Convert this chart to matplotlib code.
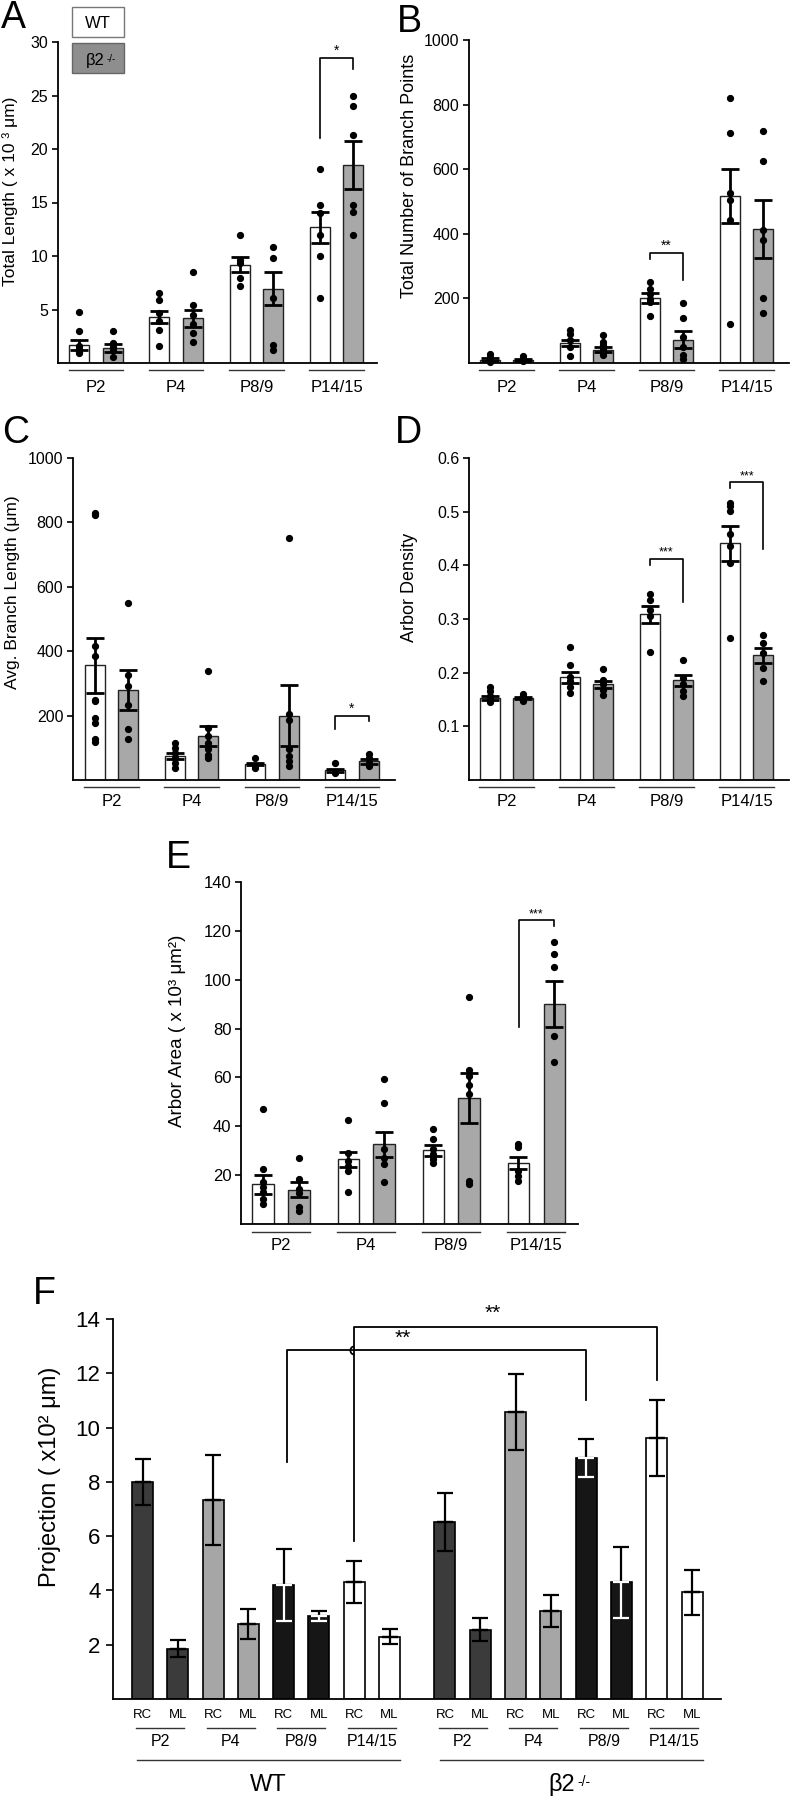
import numpy as np
import matplotlib
matplotlib.use("Agg")
import matplotlib.pyplot as plt
from matplotlib.patches import Rectangle, Arc
from matplotlib.text import Annotation
from matplotlib.transforms import offset_copy

plt.rcParams["font.family"] = ["Liberation Sans", "DejaVu Sans"]

AGES = ["P2", "P4", "P8/9", "P14/15"]

# ---- A: total length (x10^3 um)
A_wt_mean = [1.7, 4.3, 9.2, 12.7]
A_wt_sem = [0.45, 0.6, 0.7, 1.45]
A_ko_mean = [1.4, 4.2, 6.95, 18.5]
A_ko_sem = [0.4, 0.8, 1.55, 2.25]
A_wt_pts = [[4.75, 2.95, 1.6, 1.3, 1.0, 0.9], [6.5, 5.9, 4.7, 3.9, 3.1, 1.55],
            [12.0, 9.6, 9.3, 7.9, 7.15], [18.1, 14.75, 14.0, 12.0, 10.0, 6.1]]
A_ko_pts = [[2.95, 1.85, 1.5, 1.25, 0.6], [8.55, 5.45, 4.5, 3.6, 2.8, 2.0],
            [10.8, 9.8, 6.05, 1.7, 1.25], [25.0, 24.0, 21.3, 14.75, 14.1, 12.0]]

# ---- B: branch points
B_wt_mean = [10, 62, 202, 517]
B_wt_sem = [4, 10, 16, 83]
B_ko_mean = [9, 41, 72, 415]
B_ko_sem = [3, 8, 26, 90]
B_wt_pts = [[29, 19, 8, 4], [101, 91, 70, 50, 21], [251, 230, 215, 199, 189, 145],
            [821, 713, 525, 506, 442, 121]]
B_ko_pts = [[23, 13, 5], [88, 65, 55, 44, 34, 24], [186, 140, 80, 50, 24, 13],
            [718, 625, 413, 380, 202, 155]]

# ---- C: avg branch length (um)
C_wt_mean = [356, 74, 50, 30]
C_wt_sem = [85, 9, 4, 5]
C_ko_mean = [279, 138, 200, 58]
C_ko_sem = [62, 31, 95, 7]
C_wt_pts = [[830, 823, 415, 384, 249, 244, 193, 177, 126, 117], [115, 100, 84, 69, 53, 38],
            [69, 45, 38], [53, 22]]
C_ko_pts = [[549, 327, 291, 234, 157, 126], [338, 162, 136, 115, 95, 79, 69],
            [753, 205, 186, 95, 74, 59, 43], [82, 69, 53, 43]]

# ---- D: arbor density
D_wt_mean = [0.153, 0.191, 0.309, 0.441]
D_wt_sem = [0.003, 0.010, 0.016, 0.033]
D_ko_mean = [0.153, 0.178, 0.186, 0.232]
D_ko_sem = [0.002, 0.007, 0.010, 0.014]
D_wt_pts = [[0.173, 0.165, 0.157, 0.153, 0.146], [0.247, 0.215, 0.191, 0.184, 0.174, 0.163],
            [0.346, 0.335, 0.317, 0.305, 0.238], [0.517, 0.511, 0.502, 0.459, 0.436, 0.404, 0.265]]
D_ko_pts = [[0.160, 0.156, 0.151, 0.148], [0.206, 0.187, 0.178, 0.168, 0.159],
            [0.224, 0.190, 0.178, 0.165, 0.156], [0.271, 0.255, 0.236, 0.209, 0.184]]

# ---- E: arbor area (x10^3 um^2)
E_wt_mean = [16.2, 26.5, 30.2, 25.1]
E_wt_sem = [3.8, 3.0, 2.2, 2.5]
E_ko_mean = [14.1, 32.6, 51.6, 90.0]
E_ko_sem = [3.2, 5.1, 10.2, 9.3]
E_wt_pts = [[47.1, 22.7, 17, 15, 12.9, 10.2, 8.2], [42.4, 29.2, 25.8, 23.8, 21.7, 13.2],
            [39, 34.9, 30.6, 28.5, 26.5, 24.9], [32.6, 31.7, 21.7, 19.7, 17.7]]
E_ko_pts = [[27, 18.6, 14.3, 12.6, 6.8, 5.4], [59.4, 49.6, 30.6, 27.2, 24.5, 17.3],
            [93.1, 63.2, 60.5, 57, 53.4, 17.7, 16.3], [115.5, 110.7, 105.3, 77, 66.2]]

# ---- F: projection (x10^2 um), order: P2 RC, P2 ML, P4 RC, ... P14/15 ML
F_planes = ["RC", "ML"]
F_wt_mean = [8.0, 1.86, 7.33, 2.76, 4.2, 3.06, 4.3, 2.3]
F_wt_sem = [0.85, 0.31, 1.65, 0.56, 1.32, 0.2, 0.78, 0.27]
F_ko_mean = [6.53, 2.56, 10.57, 3.23, 8.87, 4.3, 9.61, 3.93]
F_ko_sem = [1.07, 0.43, 1.4, 0.59, 0.7, 1.3, 1.4, 0.82]
F_age_colors = ["#3b3b3b", "#a6a6a6", "#161616", "white"]

W, H = 790, 1800
fig = plt.figure(figsize=(W / 100, H / 100), dpi=100)


def px_axes(x0, x1, ytop, ybot):
    return fig.add_axes([x0 / W, 1 - ybot / H, (x1 - x0) / W, (ybot - ytop) / H])


def below(ax, dy):
    return offset_copy(ax.get_xaxis_transform(), fig=fig, y=-dy, units="dots")


def style(ax, ymax, yticks, fs):
    for s in ["top", "right"]:
        ax.spines[s].set_visible(False)
    for s in ["left", "bottom"]:
        ax.spines[s].set_linewidth(1.3)
    ax.set_ylim(0, ymax)
    ax.set_yticks(yticks)
    ax.tick_params(axis="y", direction="out", length=4, width=1.2, labelsize=fs, pad=3)
    ax.set_xticks([])


def bracket(ax, x0, x1, top, y0, y1, label, fs=10, lw=1.2):
    ax.plot([x0, x0, x1, x1], [y0, top, top, y1], color="k", lw=lw, clip_on=False, zorder=5)
    ax.text((x0 + x1) / 2, top, label, ha="center", va="bottom", fontsize=fs, zorder=5)


def ko_label(x, y, fs, sup_fs):
    # "β2" with a raised "-/-" after it
    t = fig.text(x, y, "β2", ha="center", va="center", fontsize=fs, zorder=6)
    ann = Annotation("-/-", xy=(1.0, 1.0), xycoords=t, xytext=(1.5, -1),
                     textcoords="offset points", ha="left", va="top", fontsize=sup_fs,
                     annotation_clip=False)
    ann.set_zorder(6)
    fig.add_artist(ann)
    return t


def group_panel(ax, wt_m, wt_s, ko_m, ko_s, wt_p, ko_p, line_dy, lab_dy, lab_fs):
    off, bw = 0.21, 0.25
    x = np.arange(len(AGES))
    ax.bar(x - off, wt_m, bw, color="white", edgecolor="#222222", lw=1.0, zorder=2)
    ax.bar(x + off, ko_m, bw, color="#a8a8a8", edgecolor="#222222", lw=1.0, zorder=2)
    ax.errorbar(x - off, wt_m, yerr=wt_s, fmt="none", ecolor="k", elinewidth=2.0,
                capsize=6.5, capthick=2.0, zorder=3)
    ax.errorbar(x + off, ko_m, yerr=ko_s, fmt="none", ecolor="k", elinewidth=2.0,
                capsize=6.5, capthick=2.0, zorder=3)
    for i in range(len(AGES)):
        ax.plot(np.full(len(wt_p[i]), x[i] - off), wt_p[i], "o", color="k", ms=4.2, zorder=4,
                clip_on=False)
        ax.plot(np.full(len(ko_p[i]), x[i] + off), ko_p[i], "o", color="k", ms=4.2, zorder=4,
                clip_on=False)
        ax.plot([x[i] - 0.34, x[i] + 0.34], [0, 0], color="#333333", lw=1.0,
                transform=below(ax, line_dy), clip_on=False)
        ax.text(x[i], 0, AGES[i], ha="center", va="center", fontsize=lab_fs,
                transform=below(ax, lab_dy))


# ---------------- A
axA = px_axes(58, 377, 42, 363)
style(axA, 30, [5, 10, 15, 20, 25, 30], 11.5)
axA.set_xlim(-0.474, 3.504)
group_panel(axA, A_wt_mean, A_wt_sem, A_ko_mean, A_ko_sem, A_wt_pts, A_ko_pts, 7, 24, 12)
bracket(axA, 3 - 0.21, 3 + 0.21, 28.5, 21.0, 27.5, "*", fs=10)

# legend boxes
fig.patches.append(Rectangle((72 / W, 1 - 37 / H), 52 / W, 30 / H, transform=fig.transFigure,
                             facecolor="white", edgecolor="#777777", lw=1.0))
fig.patches.append(Rectangle((72 / W, 1 - 73 / H), 52 / W, 30 / H, transform=fig.transFigure,
                             facecolor="#8e8e8e", edgecolor="#666666", lw=1.0))
fig.text(98 / W, 1 - 23 / H, "WT", ha="center", va="center", fontsize=12)
ko_label(95 / W, 1 - 60 / H, 12, 7)

# ---------------- B
axB = px_axes(469, 789, 40, 363)
style(axB, 1000, [200, 400, 600, 800, 1000], 11.5)
axB.set_xlim(-0.467, 3.53)
group_panel(axB, B_wt_mean, B_wt_sem, B_ko_mean, B_ko_sem, B_wt_pts, B_ko_pts, 7, 24, 12)
bracket(axB, 2 - 0.21, 2 + 0.21, 342, 323, 256, "**", fs=10)

# ---------------- C
axC = px_axes(73, 395, 458, 780)
style(axC, 1000, [200, 400, 600, 800, 1000], 11.5)
axC.set_xlim(-0.479, 3.536)
group_panel(axC, C_wt_mean, C_wt_sem, C_ko_mean, C_ko_sem, C_wt_pts, C_ko_pts, 7, 21, 12)
bracket(axC, 3 - 0.21, 3 + 0.21, 200, 157, 183, "*", fs=10)

# ---------------- D
axD = px_axes(469, 789, 458, 780)
style(axD, 0.6, [0.1, 0.2, 0.3, 0.4, 0.5, 0.6], 11.5)
axD.set_xlim(-0.467, 3.53)
group_panel(axD, D_wt_mean, D_wt_sem, D_ko_mean, D_ko_sem, D_wt_pts, D_ko_pts, 7, 21, 12)
bracket(axD, 2 - 0.21, 2 + 0.21, 0.412, 0.400, 0.331, "***", fs=9)
bracket(axD, 3 - 0.21, 3 + 0.21, 0.555, 0.545, 0.430, "***", fs=9)

# ---------------- E
axE = px_axes(241, 578, 882, 1224)
style(axE, 140, [20, 40, 60, 80, 100, 120, 140], 12)
axE.set_xlim(-0.47, 3.49)
group_panel(axE, E_wt_mean, E_wt_sem, E_ko_mean, E_ko_sem, E_wt_pts, E_ko_pts, 8, 21, 12)
bracket(axE, 3 - 0.206, 3 + 0.206, 124.3, 80.6, 121.9, "***", fs=9)

# ---------------- F
axF = px_axes(113, 721, 1319, 1699)
style(axF, 14, [2, 4, 6, 8, 10, 12, 14], 16)
axF.tick_params(axis="y", length=5, pad=4)
axF.set_xlim(-0.836, 16.39)
ko_start = 8.57
fw = 0.595
pos_wt = np.arange(len(F_wt_mean), dtype=float)
pos_ko = ko_start + np.arange(len(F_ko_mean))
cols = [F_age_colors[i // 2] for i in range(len(F_wt_mean))]
axF.bar(pos_wt, F_wt_mean, fw, color=cols, edgecolor="k", lw=1.2, zorder=2)
axF.bar(pos_ko, F_ko_mean, fw, color=cols, edgecolor="k", lw=1.2, zorder=2)
for pos, mean, sem in [(pos_wt, F_wt_mean, F_wt_sem), (pos_ko, F_ko_mean, F_ko_sem)]:
    for i in range(len(mean)):
        low_col = "white" if F_age_colors[i // 2] == "#161616" else "k"
        axF.errorbar(pos[i], mean[i], yerr=[[0], [sem[i]]], fmt="none", ecolor="k",
                     elinewidth=1.6, capsize=5.5, capthick=1.6, zorder=3)
        axF.errorbar(pos[i], mean[i], yerr=[[sem[i]], [0]], fmt="none", ecolor=low_col,
                     elinewidth=1.6, capsize=5.5, capthick=1.6, zorder=3)
axF.set_xticks(np.concatenate([pos_wt, pos_ko]))
axF.set_xticklabels(F_planes * 8)
axF.tick_params(axis="x", length=0, pad=7, labelsize=9.5)

for pos in [pos_wt, pos_ko]:
    for g in range(len(AGES)):
        a, b = pos[2 * g], pos[2 * g + 1]
        axF.plot([a - 0.18, b + 0.18], [0, 0], color="#333333", lw=1.0,
                 transform=below(axF, 29), clip_on=False)
        axF.text((a + b) / 2, 0, AGES[g], ha="center", va="center", fontsize=11.5,
                 transform=below(axF, 43))
    axF.plot([pos[0] - 0.15, pos[-1] + 0.3], [0, 0], color="#333333", lw=1.0,
             transform=below(axF, 61), clip_on=False)

fig.text(268 / W, 1 - 1785 / H, "WT", ha="center", va="center", fontsize=17)
ko_label(562 / W, 1 - 1785 / H, 17, 10)

# significance brackets in F
bracket(axF, pos_wt[4] + 0.1, pos_ko[4], 12.84, 8.74, 11.0, "", lw=1.3)
axF.text(7.36, 12.95, "**", ha="center", va="bottom", fontsize=15)
bracket(axF, pos_wt[6], pos_ko[6], 13.71, 5.83, 11.75, "", lw=1.3)
axF.text(9.93, 13.85, "**", ha="center", va="bottom", fontsize=15, clip_on=False)
axF.add_patch(Arc((pos_wt[6], 12.84), 0.22, 0.3, theta1=90, theta2=270, color="k", lw=1.3,
                  zorder=6, clip_on=False))

# ---------------- y labels (pixel centres)
ylabels = [
    (10, 191, "Total Length ( x 10 ³ μm)", 12.5),
    (410, 176, "Total Number of Branch Points", 13),
    (13, 592, "Avg. Branch Length (μm)", 12.5),
    (410, 587, "Arbor Density", 13),
    (177, 1031, "Arbor Area ( x 10³ μm²)", 13.5),
    (50, 1477, "Projection ( x10² μm)", 17),
]
for x, y, txt, fs in ylabels:
    fig.text(x / W, 1 - y / H, txt, rotation=90, ha="center", va="center", fontsize=fs)

# ---------------- panel letters (baseline positions)
letters = [("A", 1, 28), ("B", 397, 32), ("C", 2, 443), ("D", 395, 443), ("E", 166, 868),
           ("F", 33, 1304)]
for t, x, y in letters:
    fig.text(x / W, 1 - y / H, t, ha="left", va="baseline", fontsize=27)

fig.savefig("out.png", dpi=100)
plt.close(fig)
